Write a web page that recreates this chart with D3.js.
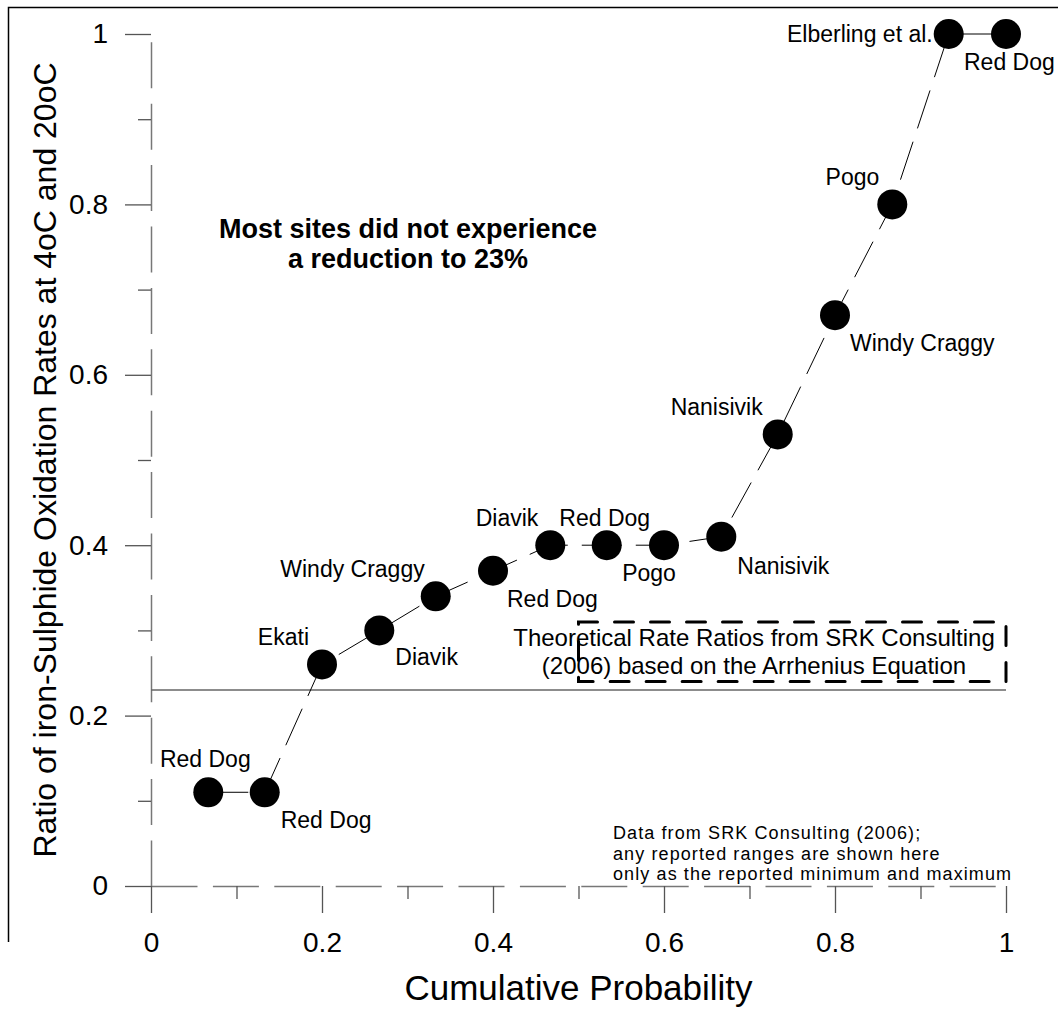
<!DOCTYPE html>
<html>
<head>
<meta charset="utf-8">
<script src="https://cdn.jsdelivr.net/npm/d3@7"></script>
<style>
    body { margin: 0; background: #fff; }
    svg { display: block; font-family: "Liberation Sans", Arial, sans-serif; }
</style>
</head>
<body>
<div id="chart"></div>
<script>
const width = 1058;
const height = 1009;

// cumulative probability of each site
const probs = [0.067, 0.133, 0.2, 0.267, 0.333, 0.4, 0.467, 0.533, 0.6, 0.667, 0.733, 0.8, 0.867, 0.933, 1.0];
// ratio of oxidation rates 4C / 20C
const ratios = [0.11, 0.11, 0.26, 0.30, 0.34, 0.37, 0.40, 0.40, 0.40, 0.41, 0.53, 0.67, 0.80, 1.0, 1.0];
const sites = ['Red Dog', 'Red Dog', 'Ekati', 'Diavik', 'Windy Craggy', 'Red Dog', 'Diavik', 'Red Dog',
    'Pogo', 'Nanisivik', 'Nanisivik', 'Windy Craggy', 'Pogo', 'Elberling et al.', 'Red Dog'];

const majorTicks = [0, 0.2, 0.4, 0.6, 0.8, 1];
const minorTicks = [0.1, 0.3, 0.5, 0.7, 0.9];

const threshold = 0.23;            // 23% line
const theoryRange = [0.24, 0.31];  // Arrhenius band
const theoryX = [0.5, 1.0];

// where each site label sits relative to its point
const labelPos = [
    { dx: -3, dy: -25, anchor: 'middle' },
    { dx: 16, dy: 36, anchor: 'start' },
    { dx: -13, dy: -19, anchor: 'end' },
    { dx: 16, dy: 35, anchor: 'start' },
    { dx: -11, dy: -19, anchor: 'end' },
    { dx: 14, dy: 36, anchor: 'start' },
    { dx: -12, dy: -19, anchor: 'end' },
    { dx: -2, dy: -19, anchor: 'middle' },
    { dx: -15, dy: 36, anchor: 'middle' },
    { dx: 16, dy: 37, anchor: 'start' },
    { dx: -15, dy: -19, anchor: 'end' },
    { dx: 15, dy: 36, anchor: 'start' },
    { dx: -13, dy: -19, anchor: 'end' },
    { dx: -16, dy: 8, anchor: 'end' },
    { dx: -42, dy: 36, anchor: 'start' }
];

const x = d3.scaleLinear().domain([0, 1]).range([151, 1006]);
const y = d3.scaleLinear().domain([0, 1]).range([886, 34]);

const svg = d3.select('#chart').append('svg')
    .attr('width', width)
    .attr('height', height);

// frame (only top and left edges fall inside the picture)
svg.append('path')
    .attr('d', 'M8.5,942V7.5H1060')
    .attr('fill', 'none')
    .attr('stroke', '#000')
    .attr('stroke-width', 1.5);

// axes
const fmt = d => d === 0 || d === 1 ? d3.format('d')(d) : d3.format('.1f')(d);

const gy = svg.append('g').attr('transform', `translate(${x(0)},0)`);
gy.call(d3.axisLeft(y).tickValues(majorTicks).tickSize(26).tickSizeOuter(0).tickPadding(17).tickFormat(fmt));
gy.append('g').call(d3.axisLeft(y).tickValues(minorTicks).tickSize(13).tickFormat(''))
    .select('.domain').remove();

const gx = svg.append('g').attr('transform', `translate(0,${y(0)})`);
gx.call(d3.axisBottom(x).tickValues(majorTicks).tickSize(27).tickSizeOuter(0).tickPadding(19).tickFormat(fmt));
gx.append('g').call(d3.axisBottom(x).tickValues(minorTicks).tickSize(13).tickFormat(''))
    .select('.domain').remove();

svg.selectAll('.domain')
    .attr('stroke', '#777')
    .attr('stroke-width', 1.5)
    .attr('stroke-dasharray', '46,15.4');
svg.selectAll('.tick line')
    .attr('stroke', '#555')
    .attr('stroke-width', 1.3);
svg.selectAll('.tick text')
    .attr('font-family', '"Liberation Sans", Arial, sans-serif')
    .attr('font-size', '28px')
    .attr('fill', '#000');

// axis titles
svg.append('text')
    .attr('x', x(0.5))
    .attr('y', 1000)
    .attr('text-anchor', 'middle')
    .attr('font-size', '35px')
    .text('Cumulative Probability');

svg.append('text')
    .attr('transform', 'translate(56,460) rotate(-90)')
    .attr('text-anchor', 'middle')
    .attr('font-size', '32px')
    .text('Ratio of iron-Sulphide Oxidation Rates at 4oC and 20oC');

// 23% threshold line
svg.append('line')
    .attr('x1', x(0)).attr('x2', x(1))
    .attr('y1', y(threshold)).attr('y2', y(threshold))
    .attr('stroke', '#666')
    .attr('stroke-width', 1.5);

// theoretical band
svg.append('rect')
    .attr('x', x(theoryX[0]))
    .attr('y', y(theoryRange[1]))
    .attr('width', x(theoryX[1]) - x(theoryX[0]))
    .attr('height', y(theoryRange[0]) - y(theoryRange[1]))
    .attr('fill', 'none')
    .attr('stroke', '#000')
    .attr('stroke-width', 3)
    .attr('stroke-linecap', 'round')
    .attr('stroke-dasharray', '19,17');

svg.append('text')
    .attr('x', 754)
    .attr('y', y(theoryRange[1]) + 24)
    .attr('text-anchor', 'middle')
    .attr('font-size', '24px')
    .selectAll('tspan')
    .data(['Theoretical Rate Ratios from SRK Consulting', '(2006) based on the Arrhenius Equation'])
    .enter().append('tspan')
    .attr('x', 754)
    .attr('dy', (d, i) => i === 0 ? 0 : 28)
    .text(d => d);

// annotation
svg.append('text')
    .attr('x', 408)
    .attr('y', 238)
    .attr('text-anchor', 'middle')
    .attr('font-size', '27px')
    .attr('font-weight', 'bold')
    .selectAll('tspan')
    .data(['Most sites did not experience', 'a reduction to 23%'])
    .enter().append('tspan')
    .attr('x', 408)
    .attr('dy', (d, i) => i === 0 ? 0 : 30)
    .text(d => d);

// source note, one text per line
svg.selectAll('.note')
    .data(['Data from SRK Consulting (2006);', 'any reported ranges are shown here', 'only as the reported minimum and maximum'])
    .enter().append('text')
    .attr('class', 'note')
    .attr('x', 613)
    .attr('y', (d, i) => 839 + i * 20.5)
    .attr('font-size', '18px')
    .attr('letter-spacing', '1.1px')
    .text(d => d);

// data
const points = probs.map((p, i) => ({ p, r: ratios[i], site: sites[i], pos: labelPos[i] }));

svg.append('path')
    .datum(points)
    .attr('d', d3.line().x(d => x(d.p)).y(d => y(d.r)))
    .attr('fill', 'none')
    .attr('stroke', '#000')
    .attr('stroke-width', 1)
    .attr('stroke-dasharray', '40,14');

svg.selectAll('.pt')
    .data(points)
    .enter().append('circle')
    .attr('class', 'pt')
    .attr('cx', d => x(d.p))
    .attr('cy', d => y(d.r))
    .attr('r', 15)
    .attr('fill', '#000');

svg.selectAll('.lbl')
    .data(points)
    .enter().append('text')
    .attr('class', 'lbl')
    .attr('x', d => x(d.p) + d.pos.dx)
    .attr('y', d => y(d.r) + d.pos.dy)
    .attr('text-anchor', d => d.pos.anchor)
    .attr('font-size', '23px')
    .text(d => d.site);
</script>
</body>
</html>
